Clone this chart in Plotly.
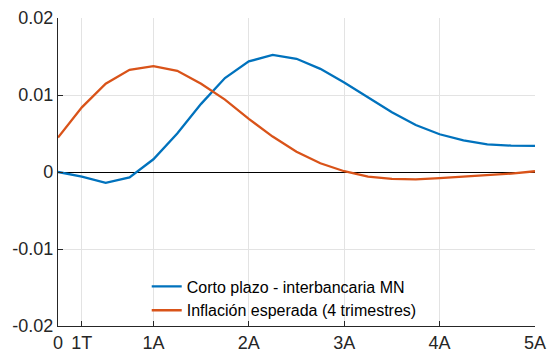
import plotly.graph_objects as go

quarters = list(range(21))
tick_vals = [0, 1, 4, 8, 12, 16, 20]
tick_text = ["0", "1T", "1A", "2A", "3A", "4A", "5A"]
y_ticks = [-0.02, -0.01, 0, 0.01, 0.02]
y_tick_text = ["-0.02", "-0.01", "0", "0.01", "0.02"]

corto_plazo = [0.0, -0.0006, -0.0014, -0.0007, 0.00165, 0.0050, 0.00885, 0.0122,
               0.01436, 0.0152, 0.0147, 0.0134, 0.01163, 0.00968, 0.00777, 0.0061,
               0.0049, 0.0041, 0.0036, 0.00343, 0.0034]
inflacion = [0.00447, 0.0084, 0.01146, 0.01328, 0.01376, 0.01315, 0.01146, 0.0094,
             0.0069, 0.0046, 0.00264, 0.00113, 0.0001, -0.0006, -0.0009, -0.00095,
             -0.0008, -0.0006, -0.0004, -0.0002, 0.0001]

names = ["Corto plazo - interbancaria MN", "Inflación esperada (4 trimestres)"]
colors = ["#0072BD", "#D95319"]

fig = go.Figure()
for name, ys, c in zip(names, [corto_plazo, inflacion], colors):
    fig.add_trace(go.Scatter(x=quarters, y=ys, mode="lines", name=name,
                             line=dict(color=c, width=2.3)))

axis_color = "#262626"
fig.update_layout(
    width=549, height=356,
    margin=dict(l=58, r=14, t=18, b=30, autoexpand=False),
    plot_bgcolor="white", paper_bgcolor="white",
    font=dict(family="Liberation Sans, Arial, sans-serif", size=18, color=axis_color),
    showlegend=True,
    legend=dict(x=0.186, y=-0.005, xanchor="left", yanchor="bottom",
                bgcolor="rgba(0,0,0,0)", font=dict(size=16, color="#000000"),
                tracegroupgap=0, itemwidth=30),
    xaxis=dict(range=[0, 20], tickmode="array", tickvals=tick_vals, ticktext=tick_text,
               showgrid=True, gridcolor="#e3e3e3", gridwidth=1, automargin=False,
               showline=True, linecolor=axis_color, linewidth=1.2,
               ticks="inside", ticklen=5, tickcolor=axis_color, zeroline=False),
    yaxis=dict(range=[-0.02, 0.02], tickmode="array", tickvals=y_ticks, ticktext=y_tick_text,
               showgrid=True, gridcolor="#e3e3e3", gridwidth=1, automargin=False,
               showline=True, linecolor=axis_color, linewidth=1.2,
               ticks="inside", ticklen=5, tickcolor=axis_color,
               zeroline=True, zerolinecolor="#000000", zerolinewidth=1.3),
)

fig.write_html("out.html", config={"displayModeBar": False},
               post_script="document.body.style.margin='0';document.body.style.overflow='hidden';")
